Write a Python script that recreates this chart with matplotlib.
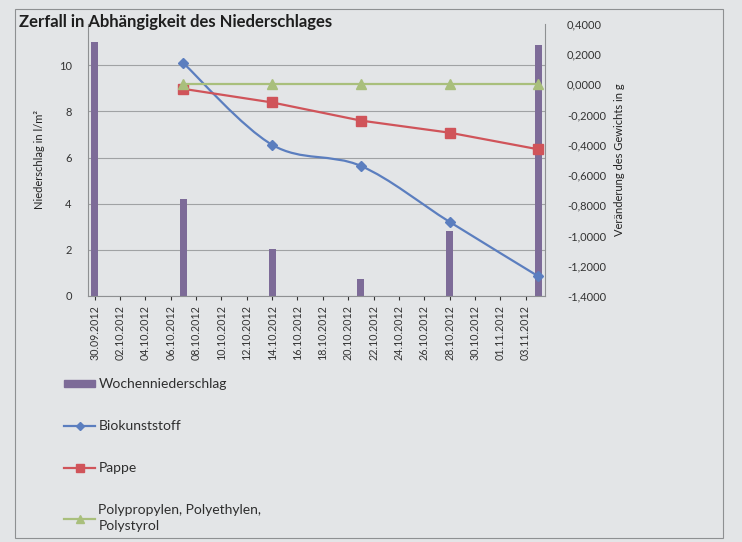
import datetime as dt
import numpy as np
import matplotlib
matplotlib.use("Agg")
from matplotlib import pyplot as plt
import matplotlib.dates as mdates
from matplotlib.path import Path
from matplotlib.patches import PathPatch, Rectangle
from matplotlib.lines import Line2D
from matplotlib.ticker import FuncFormatter

plt.rcParams['font.family'] = ['Lato', 'DejaVu Sans']

# weekly precipitation (l/m2)
rain_dates = ["30.09.2012", "07.10.2012", "14.10.2012", "21.10.2012", "28.10.2012", "04.11.2012"]
rain_values = [11.0, 4.2, 2.05, 0.75, 2.8, 10.9]

# weight change (g), measured weekly
weigh_dates = ["07.10.2012", "14.10.2012", "21.10.2012", "28.10.2012", "04.11.2012"]
bio_values = [0.14, -0.40, -0.54, -0.91, -1.27]
pappe_values = [-0.03, -0.12, -0.24, -0.32, -0.43]
plastic_values = [0.0, 0.0, 0.0, 0.0, 0.0]

legend_labels = ["Wochenniederschlag", "Biokunststoff", "Pappe",
                 "Polypropylen, Polyethylen,\nPolystyrol"]

COLORS = {
    "rain": "#7d6b98",
    "bio": "#5b7ebf",
    "pappe": "#d0545a",
    "plastic": "#a9bf7c",
    "grid": "#a0a2a4",
    "paper": "#e3e5e7",
}


def to_num(dates):
    return mdates.date2num([dt.datetime.strptime(d, "%d.%m.%Y") for d in dates])


def smooth_path(x, y):
    # excel style smoothed line as bezier segments through the points
    pts = np.column_stack([x, y])
    n = len(pts)
    verts = [pts[0]]
    codes = [Path.MOVETO]
    for i in range(n - 1):
        p_prev = pts[i - 1] if i > 0 else pts[i]
        p_next2 = pts[i + 2] if i + 2 < n else pts[i + 1]
        c1 = pts[i] + (pts[i + 1] - p_prev) / 6.0
        c2 = pts[i + 1] - (p_next2 - pts[i]) / 6.0
        verts += [c1, c2, pts[i + 1]]
        codes += [Path.CURVE4] * 3
    return Path(verts, codes)


fig = plt.figure(figsize=(7.42, 5.42), dpi=100, facecolor=COLORS["paper"])
ax = fig.add_axes([0.119, 0.454, 0.615, 0.502])
ax.set_facecolor("none")
ax2 = ax.twinx()

rain_x = to_num(rain_dates)
weigh_x = to_num(weigh_dates)

ax.bar(rain_x, rain_values, width=0.55, color=COLORS["rain"], zorder=2)
ax.set_ylim(0, 11.8)
ax.set_yticks(np.arange(0, 11, 2))
ax.set_yticklabels([str(v) for v in range(0, 11, 2)], fontsize=8, color="#333333")
ax.yaxis.grid(True, color=COLORS["grid"], lw=0.8)
ax.set_axisbelow(True)
ax.set_ylabel("Niederschlag in l/m²", fontsize=8, color="#222222", labelpad=10)

ax.set_xlim(rain_x[0] - 0.5, rain_x[-1] + 0.5)
ax.xaxis.set_major_locator(mdates.DayLocator(interval=2))
ax.xaxis.set_major_formatter(mdates.DateFormatter("%d.%m.%Y"))
ax.tick_params(axis="x", labelrotation=90, labelsize=7.7, colors="#333333", length=3)
ax.tick_params(axis="y", length=0, pad=12)

for s in ["top", "right"]:
    ax.spines[s].set_visible(False)
    ax2.spines[s].set_visible(False)
ax.spines["left"].set_color("#8e9092")
ax.spines["bottom"].set_color("#8e9092")
ax2.spines["left"].set_visible(False)
ax2.spines["bottom"].set_visible(False)
ax2.spines["right"].set_visible(True)
ax2.spines["right"].set_color("#8e9092")

# weight change lines on secondary axis
ax2.add_patch(PathPatch(smooth_path(weigh_x, bio_values), fc="none",
                        ec=COLORS["bio"], lw=1.6, zorder=3))
ax2.plot(weigh_x, bio_values, ls="none", marker="D", ms=5.5, color=COLORS["bio"], zorder=4)
ax2.plot(weigh_x, pappe_values, marker="s", ms=7, lw=1.6, color=COLORS["pappe"], zorder=4)
ax2.plot(weigh_x, plastic_values, marker="^", ms=7, lw=1.6, color=COLORS["plastic"], zorder=4)

ax2.set_ylim(-1.4, 0.4)
ax2.set_yticks(np.arange(-1.4, 0.41, 0.2))
ax2.yaxis.set_major_formatter(FuncFormatter(lambda v, p: f"{v:.4f}".replace(".", ",").replace("-0,0000", "0,0000")))
ax2.tick_params(axis="y", labelsize=8, colors="#333333", length=0, pad=16)
ax2.set_ylabel("Veränderung des Gewichts in g", fontsize=8, color="#222222", labelpad=6)

fig.text(0.025, 0.975, "Zerfall in Abhängigkeit des Niederschlages",
         fontsize=12, fontweight="bold", color="#1e1e1e", va="top")

# chart border
fig.add_artist(Rectangle((0.02, 0.008), 0.955, 0.975, transform=fig.transFigure,
                         fill=False, ec="#8e9092", lw=0.8))

handles = [
    Rectangle((0, 0), 1, 1, color=COLORS["rain"]),
    Line2D([], [], color=COLORS["bio"], marker="D", ms=4, lw=1.6),
    Line2D([], [], color=COLORS["pappe"], marker="s", ms=6, lw=1.6),
    Line2D([], [], color=COLORS["plastic"], marker="^", ms=6, lw=1.6),
]
leg = fig.legend(handles, legend_labels, loc="upper left", bbox_to_anchor=(0.07, 0.325),
                 frameon=False, fontsize=10, labelspacing=2.15, handlelength=2.2,
                 handleheight=0.45, handletextpad=0.25, labelcolor="#2e2e2e")
for t in leg.get_texts():
    t.set_linespacing(1.4)

fig.savefig("out.png", dpi=100, facecolor=fig.get_facecolor())
